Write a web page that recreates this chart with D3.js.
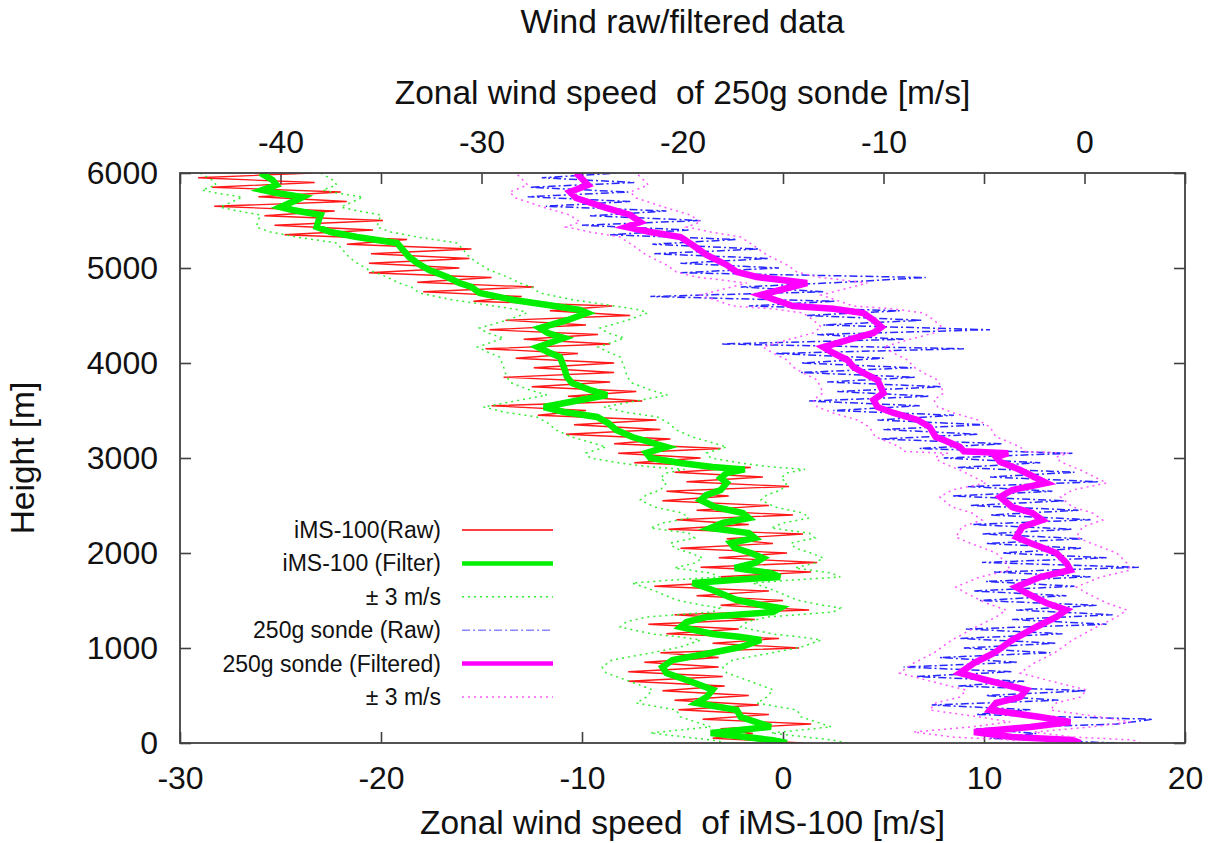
<!DOCTYPE html>
<html>
<head>
<meta charset="utf-8">
<script src="https://cdn.jsdelivr.net/npm/d3@7"></script>
<style>
  body { margin: 0; background: #fff; }
  svg text { font-family: "Liberation Sans", Arial, Helvetica, sans-serif; fill: #111; }
</style>
</head>
<body>
<svg id="chart"></svg>
<script>
// axes
const xDomain = [-30, 20];      // iMS-100, bottom
const x2Domain = [-45, 5];      // 250g sonde, top
const yDomain = [0, 6000];
const xTicks = [-30, -20, -10, 0, 10, 20];
const x2Ticks = [-40, -30, -20, -10, 0];
const yTicks = [0, 1000, 2000, 3000, 4000, 5000, 6000];
const band = 3; // ± 3 m/s

// raw profiles, sampled every 50 m from 0 to 6000 m
const rawStep = 50;
const ims100Raw = [1.0,-3.5,-1.5,-3.1,1.4,-4.0,-0.7,-5.2,-1.2,-5.4,
  -1.7,-6.0,-2.9,-7.7,-3.0,-7.7,-3.2,-6.9,-3.2,-6.1,
  0.8,-3.5,-0.2,-5.8,-2.2,-6.7,-1.4,-5.4,1.3,-3.1,
  0.0,-4.3,-0.7,-6.4,-2.2,-3.1,1.4,-4.1,1.7,-3.2,
  0.2,-5.1,-0.5,-2.8,1.0,-5.7,-1.7,-5.3,0.5,-4.3,
  -0.7,-6.0,-2.7,-5.8,0.3,-4.8,-1.0,-5.4,-1.6,-7.4,
  -4.1,-8.2,-3.1,-8.4,-5.6,-10.8,-6.1,-10.4,-6.3,-12.2,
  -9.8,-14.5,-7.0,-10.7,-7.3,-12.5,-8.6,-13.9,-8.4,-12.4,
  -8.4,-13.3,-10.2,-14.8,-8.6,-12.9,-9.2,-14.6,-9.8,-13.8,
  -7.6,-11.6,-8.5,-15.4,-13.0,-17.9,-12.4,-18.2,-14.5,-20.6,
  -16.1,-20.6,-15.6,-20.5,-15.5,-21.7,-18.7,-24.8,-20.4,-25.3,
  -19.9,-25.8,-22.3,-28.3,-21.7,-26.1,-22.0,-28.4,-23.3,-29.1,
  -23.4];
const sondeRaw = [1.5,-4.7,-2.4,-5.4,1.6,3.4,-5.4,-2.7,-7.6,-1.3,
  -4.9,0.1,-6.3,-3.0,-8.4,-3.6,-9.0,-3.3,-7.2,-1.7,
  -6.0,-1.4,-6.2,-1.1,-5.9,1.1,-3.6,1.4,-3.4,0.6,
  -5.2,-0.9,-5.5,-0.5,-4.9,0.3,-4.5,2.7,-5.1,1.1,
  -4.1,-0.1,-4.9,-0.1,-5.1,-0.6,-5.6,0.3,-4.7,-0.3,
  -5.7,-1.0,-6.6,-1.6,-5.8,0.7,-4.7,-0.5,-6.3,-2.2,
  -7.0,-0.6,-8.2,-4.1,-10.1,-5.3,-10.0,-5.0,-10.3,-6.5,
  -12.5,-8.2,-13.7,-7.7,-12.3,-7.1,-12.8,-8.4,-14.1,-8.6,
  -14.1,-10.0,-15.4,-6.0,-18.1,-9.0,-13.3,-4.7,-13.0,-8.1,
  -13.8,-9.2,-16.7,-12.4,-21.6,-13.0,-17.1,-12.0,-7.9,-20.1,
  -15.2,-20.1,-15.7,-21.4,-16.2,-21.5,-17.3,-23.6,-19.7,-25.0,
  -19.1,-24.6,-20.8,-26.8,-22.6,-27.7,-22.7,-27.6,-22.4,-27.0,
  -23.2];

// filtered profiles
const ims100FilterHeight = [0,30,105,170,274,347,421,484,560,663,737,800,874,947,1010,1084,1116,1147,1221,1274,
  1326,1379,1421,1453,1505,1611,1684,1716,1747,1789,1842,1895,1947,2000,2053,2105,2158,2210,2263,2316,
  2368,2421,2484,2558,2611,2663,2737,2789,2842,2880,2905,2947,3000,3053,3116,3221,3295,3368,3432,3484,
  3537,3589,3663,3716,3789,3853,3958,4063,4116,4168,4263,4316,4368,4453,4526,4558,4611,4663,4737,4800,
  4842,4905,4979,5053,5116,5189,5263,5295,5326,5379,5432,5505,5558,5611,5642,5716,5747,5789,5821,5874,
  5926,6000];
const ims100Filter = [0.2,-0.5,-3.6,-0.6,-2.1,-2.3,-4.3,-3.8,-3.5,-4.8,-5.8,-6.0,-5.5,-3.6,-2.1,-1.1,-2.1,-3.5,-5.1,-4.8,
  -3.8,-0.5,-0.15,-1.1,-2.3,-3.5,-4.5,-2.5,-0.15,-0.6,-2.4,-1.4,-1.0,-1.6,-2.4,-2.6,-1.4,-1.7,-3.6,-3.0,
  -1.7,-2.0,-3.4,-4.1,-3.8,-3.1,-2.8,-3.1,-2.8,-1.9,-3.5,-5.1,-6.6,-6.8,-5.8,-7.5,-8.3,-8.7,-9.25,-10.9,
  -11.9,-10.6,-8.75,-9.6,-10.5,-10.75,-10.9,-11.1,-11.7,-12.2,-10.9,-11.7,-12.1,-10.7,-9.75,-10.1,-11.7,-13.4,-15.1,-15.5,
  -16.1,-16.7,-17.6,-18.2,-18.6,-18.9,-19.2,-20.2,-21.2,-22.5,-23.2,-23.1,-23.0,-24.4,-25.0,-24.2,-23.9,-25.2,-25.9,-25.2,
  -25.4,-26.0];
const sondeFilterHeight = [0,32,63,116,168,221,274,347,421,484,558,663,737,842,947,1084,1221,1326,1400,1474,
  1579,1642,1747,1821,1895,2000,2105,2168,2274,2347,2421,2484,2590,2663,2737,2768,2874,2960,3010,3050,
  3070,3116,3190,3221,3326,3400,3474,3537,3611,3684,3821,3895,3958,4032,4105,4168,4242,4316,4379,4453,
  4526,4570,4600,4716,4842,4905,4958,5032,5137,5242,5326,5379,5432,5484,5558,5632,5737,5800,5874,5940,
  6000];
const sondeFilter = [-0.2,-0.6,-3.6,-5.5,-2.7,-0.7,-2.2,-4.7,-4.4,-3.2,-2.9,-4.9,-6.2,-5.5,-4.5,-3.6,-2.4,-1.4,-0.9,-1.9,
  -2.9,-3.4,-2.2,-0.7,-0.9,-1.4,-2.7,-3.4,-3.1,-2.1,-2.6,-3.6,-4.2,-3.6,-1.9,-2.2,-3.2,-4.2,-4.4,-3.8,
  -6.0,-6.2,-7.0,-7.4,-7.7,-8.3,-9.5,-10.3,-10.5,-10.0,-10.3,-11.0,-11.5,-11.8,-12.5,-13.0,-11.8,-10.5,-10.1,-10.5,
  -11.0,-12.5,-14.5,-16.1,-13.8,-16.3,-17.3,-17.8,-18.8,-19.5,-20.1,-21.6,-22.8,-22.1,-22.6,-23.8,-25.3,-25.6,-24.7,-25.0,
  -25.3];

const width = 1209;
const height = 843;
const marginTop = 173;
const marginRight = 24;
const marginBottom = 100;
const marginLeft = 180;
const tickLen = 11;
const axisColor = "#404040";
const labelSize = "33.5px";

const x = d3.scaleLinear(xDomain, [marginLeft, width - marginRight]);
const x2 = d3.scaleLinear(x2Domain, [marginLeft, width - marginRight]);
const y = d3.scaleLinear(yDomain, [height - marginBottom, marginTop]);

const svg = d3.select("#chart")
  .attr("width", width)
  .attr("height", height)
  .attr("viewBox", [0, 0, width, height]);

// ticks (inward, gnuplot style)
function styleAxis(g) {
  g.select(".domain").remove();
  g.selectAll(".tick line").attr("stroke", axisColor).attr("stroke-width", 1.6);
  g.selectAll(".tick text").attr("fill", "#111").style("font-size", "32px")
    .style("font-family", '"Liberation Sans", Arial, sans-serif');
}
const fmt = d => String(d);

svg.append("g")
  .attr("transform", `translate(0,${height - marginBottom})`)
  .call(d3.axisBottom(x).tickValues(xTicks).tickFormat(fmt).tickSize(-tickLen).tickPadding(23))
  .call(styleAxis);

// mirror of bottom ticks on top
svg.append("g")
  .attr("transform", `translate(0,${marginTop})`)
  .call(d3.axisTop(x).tickValues(xTicks).tickFormat("").tickSize(-tickLen))
  .call(styleAxis);

svg.append("g")
  .attr("transform", `translate(0,${marginTop})`)
  .call(d3.axisTop(x2).tickValues(x2Ticks).tickFormat(fmt).tickSize(-tickLen).tickPadding(20))
  .call(styleAxis);

svg.append("g")
  .attr("transform", `translate(${marginLeft},0)`)
  .call(d3.axisLeft(y).tickValues(yTicks).tickFormat(fmt).tickSize(-tickLen).tickPadding(22))
  .call(styleAxis);

svg.append("g")
  .attr("transform", `translate(${width - marginRight},0)`)
  .call(d3.axisRight(y).tickValues(yTicks).tickFormat("").tickSize(-tickLen))
  .call(styleAxis);

// data
const rawHeights = d3.range(0, yDomain[1] + 1, rawStep);
const ims100RawData = rawHeights.map((h, i) => ({h, v: ims100Raw[i]}));
const sondeRawData = rawHeights.map((h, i) => ({h, v: sondeRaw[i]}));
const ims100FiltData = ims100FilterHeight.map((h, i) => ({h, v: ims100Filter[i]}));
const sondeFiltData = sondeFilterHeight.map((h, i) => ({h, v: sondeFilter[i]}));

const series = [
  {name: "iMS-100(Raw)", data: [ims100RawData], sx: x, color: "#ff0000", w: 1.3, dash: null, op: 0.9, lw: 1.4},
  {name: "iMS-100 (Filter)", data: [ims100FiltData], sx: x, color: "#00ee00", w: 6.5, dash: null, op: 1, lw: 4.5},
  {name: "\u00b1 3 m/s", data: [
      ims100FiltData.map(d => ({h: d.h, v: d.v - band})),
      ims100FiltData.map(d => ({h: d.h, v: d.v + band}))],
    sx: x, color: "#33ee33", w: 1.5, dash: "2,4", op: 1, lw: 1.4},
  {name: "250g sonde (Raw)", data: [sondeRawData], sx: x2, color: "#1010ff", w: 1.5, dash: "8,3,2,3", op: 0.9, lw: 1.4},
  {name: "250g sonde (Filtered)", data: [sondeFiltData], sx: x2, color: "#ff00ff", w: 6.5, dash: null, op: 1, lw: 4.5},
  {name: "\u00b1 3 m/s", data: [
      sondeFiltData.map(d => ({h: d.h, v: d.v - band})),
      sondeFiltData.map(d => ({h: d.h, v: d.v + band}))],
    sx: x2, color: "#ff55ff", w: 1.5, dash: "2,4", op: 1, lw: 1.4}
];

svg.append("clipPath").attr("id", "plot-clip")
  .append("rect")
  .attr("x", marginLeft).attr("y", marginTop)
  .attr("width", width - marginLeft - marginRight)
  .attr("height", height - marginTop - marginBottom);

const plot = svg.append("g").attr("clip-path", "url(#plot-clip)");

series.forEach(s => {
  const line = d3.line().x(d => s.sx(d.v)).y(d => y(d.h));
  s.data.forEach(arr => {
    plot.append("path")
      .datum(arr)
      .attr("d", line)
      .attr("fill", "none")
      .attr("stroke", s.color)
      .attr("stroke-width", s.w)
      .attr("stroke-opacity", s.op)
      .attr("stroke-linejoin", "miter")
      .attr("stroke-dasharray", s.dash);
  });
});

// border
svg.append("rect")
  .attr("x", marginLeft).attr("y", marginTop)
  .attr("width", width - marginLeft - marginRight)
  .attr("height", height - marginTop - marginBottom)
  .attr("fill", "none")
  .attr("stroke", axisColor)
  .attr("stroke-width", 1.8);

// legend
const legend = svg.append("g");
const legendTop = 530, legendRow = 33.4;
series.forEach((s, i) => {
  const ly = legendTop + i * legendRow;
  legend.append("text")
    .attr("x", 441).attr("y", ly).attr("dy", "0.35em")
    .attr("text-anchor", "end")
    .style("font-size", "23px")
    .text(s.name);
  legend.append("line")
    .attr("x1", 462).attr("x2", 553).attr("y1", ly).attr("y2", ly)
    .attr("stroke", s.color)
    .attr("stroke-width", s.lw)
    .attr("stroke-opacity", s.dash === "8,3,2,3" ? 0.5 : 1)
    .attr("stroke-dasharray", s.dash);
});

// titles
const cx = (marginLeft + width - marginRight) / 2;
svg.append("text").attr("x", cx).attr("y", 33).attr("text-anchor", "middle")
  .style("font-size", labelSize).text("Wind raw/filtered data");
svg.append("text").attr("x", cx).attr("y", 104).attr("text-anchor", "middle")
  .style("font-size", labelSize).style("white-space", "pre").attr("xml:space", "preserve")
  .text("Zonal wind speed  of 250g sonde [m/s]");
svg.append("text").attr("x", cx).attr("y", 834).attr("text-anchor", "middle")
  .style("font-size", labelSize).style("white-space", "pre").attr("xml:space", "preserve")
  .text("Zonal wind speed  of iMS-100 [m/s]");
svg.append("text")
  .attr("transform", `translate(34,${(marginTop + height - marginBottom) / 2}) rotate(-90)`)
  .attr("text-anchor", "middle")
  .style("font-size", labelSize).text("Height [m]");
</script>
</body>
</html>
